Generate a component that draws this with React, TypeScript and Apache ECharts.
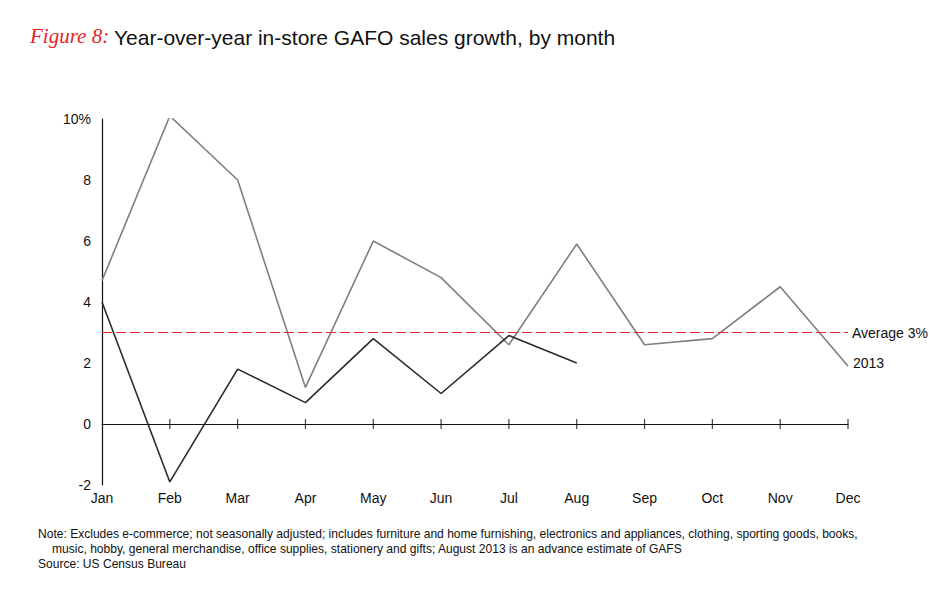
import React, { useEffect, useRef } from "react";
import * as echarts from "echarts";

const MONTHS = ["Jan", "Feb", "Mar", "Apr", "May", "Jun", "Jul", "Aug", "Sep", "Oct", "Nov", "Dec"];
const SERIES_GRAY = [4.7, 10.1, 8.0, 1.2, 6.0, 4.8, 2.6, 5.9, 2.6, 2.8, 4.5, 1.9];
const SERIES_BLACK = [4.0, -1.9, 1.8, 0.7, 2.8, 1.0, 2.9, 2.0];
const AVERAGE = 3;
const Y_MIN = -2;
const Y_MAX = 10;
const Y_INTERVAL = 2;
const GRAY_LABEL = "2013";
const AVERAGE_LABEL = "Average 3%";
const NOTE_LINE_1 =
  "Note: Excludes e-commerce; not seasonally adjusted; includes furniture and home furnishing, electronics and appliances, clothing, sporting goods, books,";
const NOTE_LINE_2 =
  "music, hobby, general merchandise, office supplies, stationery and gifts; August 2013 is an advance estimate of GAFS";
const SOURCE = "Source: US Census Bureau";
const FIG_LABEL = "Figure 8:";
const TITLE = "Year-over-year in-store GAFO sales growth, by month";

const FONT = "'Liberation Sans', Arial, sans-serif";

export default function App() {
  const ref = useRef<HTMLDivElement>(null);
  useEffect(() => {
    if (!ref.current) return;
    const chart = echarts.init(ref.current, undefined, { renderer: "svg" });
    const baseX = {
      type: "category" as const,
      data: MONTHS,
      boundaryGap: false,
    };
    chart.setOption({
      animation: false,
      backgroundColor: "#ffffff",
      textStyle: { fontFamily: FONT },
      grid: { left: 94, right: 94, top: 111, bottom: 97, containLabel: false },
      graphic: [
        {
          type: "text",
          left: 22,
          top: 17,
          style: {
            text: FIG_LABEL,
            fill: "#e3262b",
            font: "italic 21px 'Liberation Serif', serif",
          },
        },
        {
          type: "text",
          left: 106,
          top: 19,
          style: {
            text: TITLE,
            fill: "#111111",
            font: "21px " + FONT,
          },
        },
        {
          type: "text",
          left: 30,
          top: 520,
          style: { text: NOTE_LINE_1, fill: "#111111", font: "12.05px " + FONT },
        },
        {
          type: "text",
          left: 44,
          top: 535,
          style: { text: NOTE_LINE_2, fill: "#111111", font: "12.05px " + FONT },
        },
        {
          type: "text",
          left: 30,
          top: 550,
          style: { text: SOURCE, fill: "#111111", font: "12.05px " + FONT },
        },
      ],
      xAxis: [
        {
          ...baseX,
          position: "bottom",
          axisLine: { show: false, onZero: false },
          axisTick: { show: false },
          axisLabel: { color: "#111", fontSize: 14, margin: 6, fontFamily: FONT },
          splitLine: { show: false },
        },
        {
          ...baseX,
          position: "top",
          axisLine: { show: true, onZero: true, lineStyle: { color: "#111", width: 1.2 } },
          axisTick: { show: false },
          axisLabel: { show: false },
          splitLine: { show: false },
        },
      ],
      yAxis: {
        type: "value",
        min: Y_MIN,
        max: Y_MAX,
        interval: Y_INTERVAL,
        axisLine: { show: true, onZero: false, lineStyle: { color: "#111", width: 1.2 } },
        axisTick: { show: false },
        splitLine: { show: false },
        axisLabel: {
          color: "#111",
          fontSize: 14,
          margin: 11,
          fontFamily: FONT,
          formatter: (v: number) => (v === Y_MAX ? v + "%" : String(v)),
        },
      },
      series: [
        {
          type: "scatter",
          name: "ticks",
          data: MONTHS.map((m, i) => [i, 0]).slice(1),
          symbol: "rect",
          symbolSize: [1.2, 10],
          itemStyle: { color: "#111" },
          silent: true,
          z: 1,
        },
        {
          type: "line",
          name: "gray",
          data: SERIES_GRAY,
          symbol: "none",
          lineStyle: { color: "#7f7f7f", width: 1.6 },
          endLabel: {
            show: true,
            formatter: () => GRAY_LABEL,
            color: "#111",
            fontSize: 14,
            fontFamily: FONT,
            distance: 5,
            offset: [0, -3],
          },
          z: 3,
        },
        {
          type: "line",
          name: "black",
          data: SERIES_BLACK,
          symbol: "none",
          lineStyle: { color: "#2b2b2b", width: 1.6 },
          z: 4,
        },
        {
          type: "line",
          name: "avg",
          data: [],
          markLine: {
            silent: true,
            symbol: "none",
            lineStyle: { color: "#e3262b", type: [10, 4], width: 1.2 },
            label: {
              show: true,
              position: "end",
              formatter: () => AVERAGE_LABEL,
              color: "#111",
              fontSize: 14,
              fontFamily: FONT,
              distance: 4,
            },
            data: [{ yAxis: AVERAGE }],
          },
          z: 2,
        },
      ],
    });
    return () => chart.dispose();
  }, []);
  return <div ref={ref} style={{ width: 934, height: 574 }} />;
}
